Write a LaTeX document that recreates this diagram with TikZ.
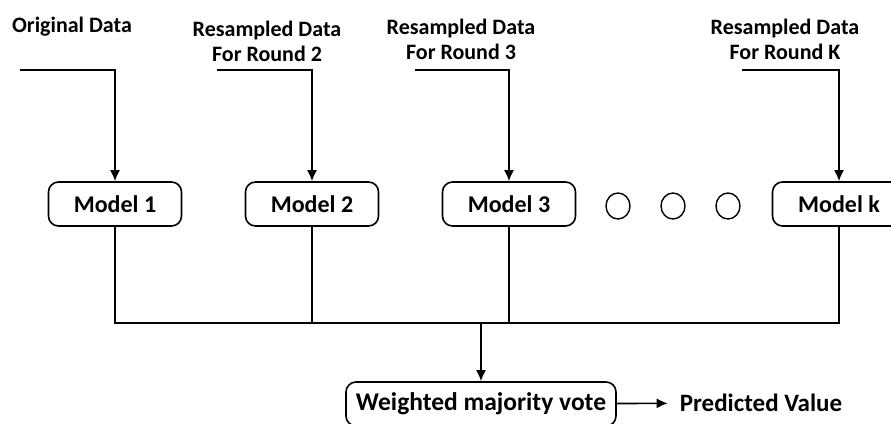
\documentclass[tikz,border=0pt]{standalone}
\usepackage{fontspec}
\setmainfont{Carlito}
\usetikzlibrary{positioning,arrows.meta,shapes.geometric}

\begin{document}
\begin{tikzpicture}[x=1pt,y=-1pt,line width=1.6pt,
  >={Latex[length=11pt,width=10pt]},
  model/.style={draw,rounded corners=10pt,minimum width=133pt,minimum height=44pt,
    font=\fontsize{24}{26}\selectfont\bfseries},
  head/.style={align=center,font=\fontsize{22}{25}\selectfont\bfseries},
  dot/.style={draw,ellipse,minimum width=24pt,minimum height=26pt,inner sep=0pt,line width=1.4pt}]
 \useasboundingbox (0,0) rectangle (891,423);
 % data sets fed to each round
 \node[head] (text1) at (72,27) {Original Data};
 \node[head] (text2) at (267,41) {Resampled Data\\For Round 2};
 \node[head] (text3) at (461,39) {Resampled Data\\For Round 3};
 \node[head] (textk) at (785,39) {Resampled Data\\For Round K};
 \coordinate (in1) at (20,70);
 \coordinate (in2) at (217,70);
 \coordinate (in3) at (415,70);
 \coordinate (ink) at (742,70);
 % the models
 \node[model] (m1) at (115,204) {Model 1};
 \node[model] (m2) at (312,204) {Model 2};
 \node[model] (m3) at (509,204) {Model 3};
 \node[model] (mk) at (839,204) {Model k};
 \node[dot] (d1) at (618,206) {};
 \node[dot] (d2) at (673,206) {};
 \node[dot] (d3) at (728,206) {};
 \draw [->] (in1) -| (m1);
 \draw [->] (in2) -| (m2);
 \draw [->] (in3) -| (m3);
 \draw [->] (ink) -| (mk);
 % combine
 \coordinate (bus) at (481,323);
 \node[model,minimum width=270pt,font=\fontsize{25.5}{27}\selectfont\bfseries]
   (vote) at (481,404) {Weighted majority vote};
 \node[head,font=\fontsize{25}{27}\selectfont\bfseries] (pred) at (761,403) {Predicted Value};
 \draw (m1) -- (m1 |- bus) -- (mk |- bus) -- (mk);
 \draw (m2) -- (m2 |- bus);
 \draw (m3) -- (m3 |- bus);
 \draw [->] (bus) -- (vote);
 \draw [->,shorten >=8pt] (vote) -- (pred);
\end{tikzpicture}
\end{document}
